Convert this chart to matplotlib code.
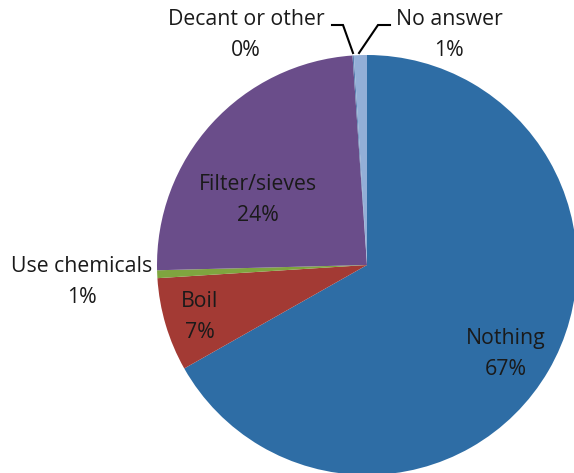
import matplotlib
matplotlib.use("Agg")
import matplotlib.pyplot as plt

categories = ["Nothing", "Boil", "Use chemicals", "Filter/sieves", "Decant or other", "No answer"]
values = [66.8, 7.2, 0.6, 24.3, 0.1, 1.0]
colors = ["#2E6DA5", "#A33A34", "#7FA53F", "#6A4D8A", "#5A7FB0", "#93AFD7"]

W, H = 574, 473
fig = plt.figure(figsize=(W / 100, H / 100), dpi=100)
ax = fig.add_axes([0, 0, 1, 1])

cx, cy, r = 367, H - 265, 210
ax.pie(values, colors=colors, startangle=90, counterclock=False,
       center=(cx, cy), radius=r, frame=True,
       wedgeprops=dict(linewidth=0))
ax.set_xlim(0, W)
ax.set_ylim(0, H)
ax.set_aspect("equal")
ax.axis("off")

total = sum(values)
pct = [f"{round(v / total * 100):.0f}%" for v in values]

font = dict(family=["Open Sans", "DejaVu Sans"], fontsize=15.3, color="#1a1a1a",
            ha="center", va="center", linespacing=1.6)

def Y(y):
    return H - y

label_pos = {
    "Nothing": (506, 354),
    "Boil": (200, 317),
    "Use chemicals": (82, 282),
    "Filter/sieves": (258, 200),
    "Decant or other": (246, 35),
    "No answer": (449, 35),
}
for cat, p in zip(categories, pct):
    x, y = label_pos[cat]
    ax.text(x, Y(y), f"{cat}\n{p}", **font)

# leader lines
ax.plot([332, 343, 353], [Y(25), Y(25), Y(53)], color="black", lw=1.5,
        solid_joinstyle="miter")
ax.plot([390, 378, 359], [Y(25), Y(25), Y(53)], color="black", lw=1.5,
        solid_joinstyle="miter")

fig.savefig("out.png", dpi=100)
